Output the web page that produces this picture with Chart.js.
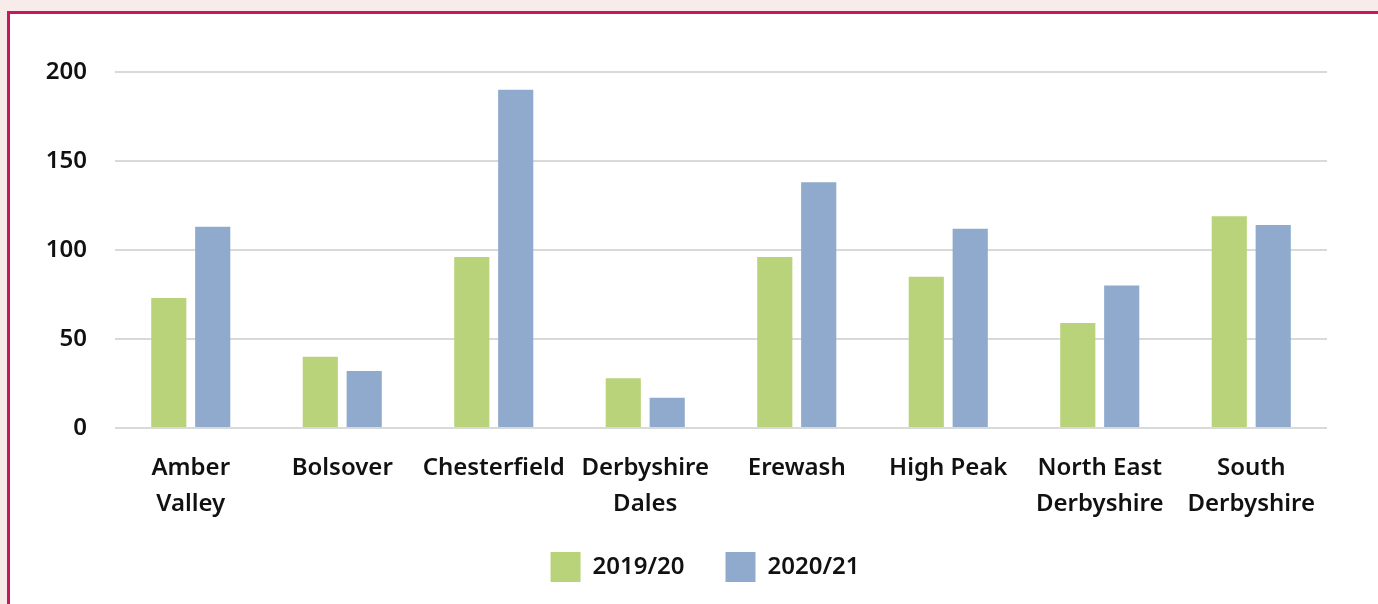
<!DOCTYPE html>
<html>
<head>
<meta charset="utf-8">
<script src="https://cdn.jsdelivr.net/npm/chart.js@4"></script>
<style>
  html, body { margin: 0; padding: 0; background: #f8ecea; width: 1378px; height: 604px; overflow: hidden; }
  #frame { position: absolute; left: 7px; top: 11px; width: 1371px; height: 593px;
           border-top: 3px solid #c8175f; border-left: 3px solid #c8175f; background: #fff; }
  #wrap { position: absolute; left: 0; top: 0; width: 1368px; height: 590px; }
</style>
</head>
<body>
<div id="frame"><div id="wrap"><canvas id="chart"></canvas></div></div>
<script>
// districts on the x axis
var categories = [['Amber', 'Valley'], 'Bolsover', 'Chesterfield', ['Derbyshire', 'Dales'],
  'Erewash', 'High Peak', ['North East', 'Derbyshire'], ['South', 'Derbyshire']];
var series2019 = [73, 40, 96, 28, 96, 85, 59, 119];
var series2020 = [113, 32, 190, 17, 138, 112, 80, 114];
var yTicks = [0, 50, 100, 150, 200];

Chart.defaults.font.family = '"Noto Sans", "Open Sans", sans-serif';
Chart.defaults.font.size = 24;
Chart.defaults.font.weight = 600;
Chart.defaults.color = '#111';

// nudge the legend a bit left/up, like the original layout
var legendNudge = {
  id: 'legendNudge',
  afterLayout: function(chart) {
    var lg = chart.legend;
    lg.left -= 16; lg.right -= 16;
    lg.top -= 12; lg.bottom -= 12;
  }
};

var ctx = document.getElementById('chart');
var myChart = new Chart(ctx, {
  type: 'bar',
  data: {
    labels: categories,
    datasets: [
      {label: '2019/20', data: series2019, backgroundColor: '#b9d37a', categoryPercentage: 0.58, barPercentage: 0.8},
      {label: '2020/21', data: series2020, backgroundColor: '#8faacc', categoryPercentage: 0.58, barPercentage: 0.8}
    ]
  },
  plugins: [legendNudge],
  options: {
    responsive: true,
    maintainAspectRatio: false,
    animation: false,
    layout: {padding: {top: 58, right: 51, bottom: 0, left: 0}},
    plugins: {
      tooltip: {enabled: false},
      legend: {
        position: 'bottom',
        fullSize: false,
        labels: {boxWidth: 30, boxHeight: 30, padding: 41, color: '#111'}
      }
    },
    scales: {
      x: {
        grid: {display: false},
        border: {display: false},
        ticks: {padding: 14, maxRotation: 0, autoSkip: false, color: '#111', font: {lineHeight: 1.5}},
        afterFit: function(s) { s.height = 95; }
      },
      y: {
        min: 0, max: 200,
        afterBuildTicks: function(s) { s.ticks = yTicks.map(function(v){ return {value: v}; }); },
        grid: {color: '#d9d9d9', lineWidth: 2, drawTicks: false},
        border: {display: false},
        ticks: {padding: 28, color: '#111'},
        afterFit: function(s) { s.width = 105; }
      }
    }
  }
});
</script>
</body>
</html>
